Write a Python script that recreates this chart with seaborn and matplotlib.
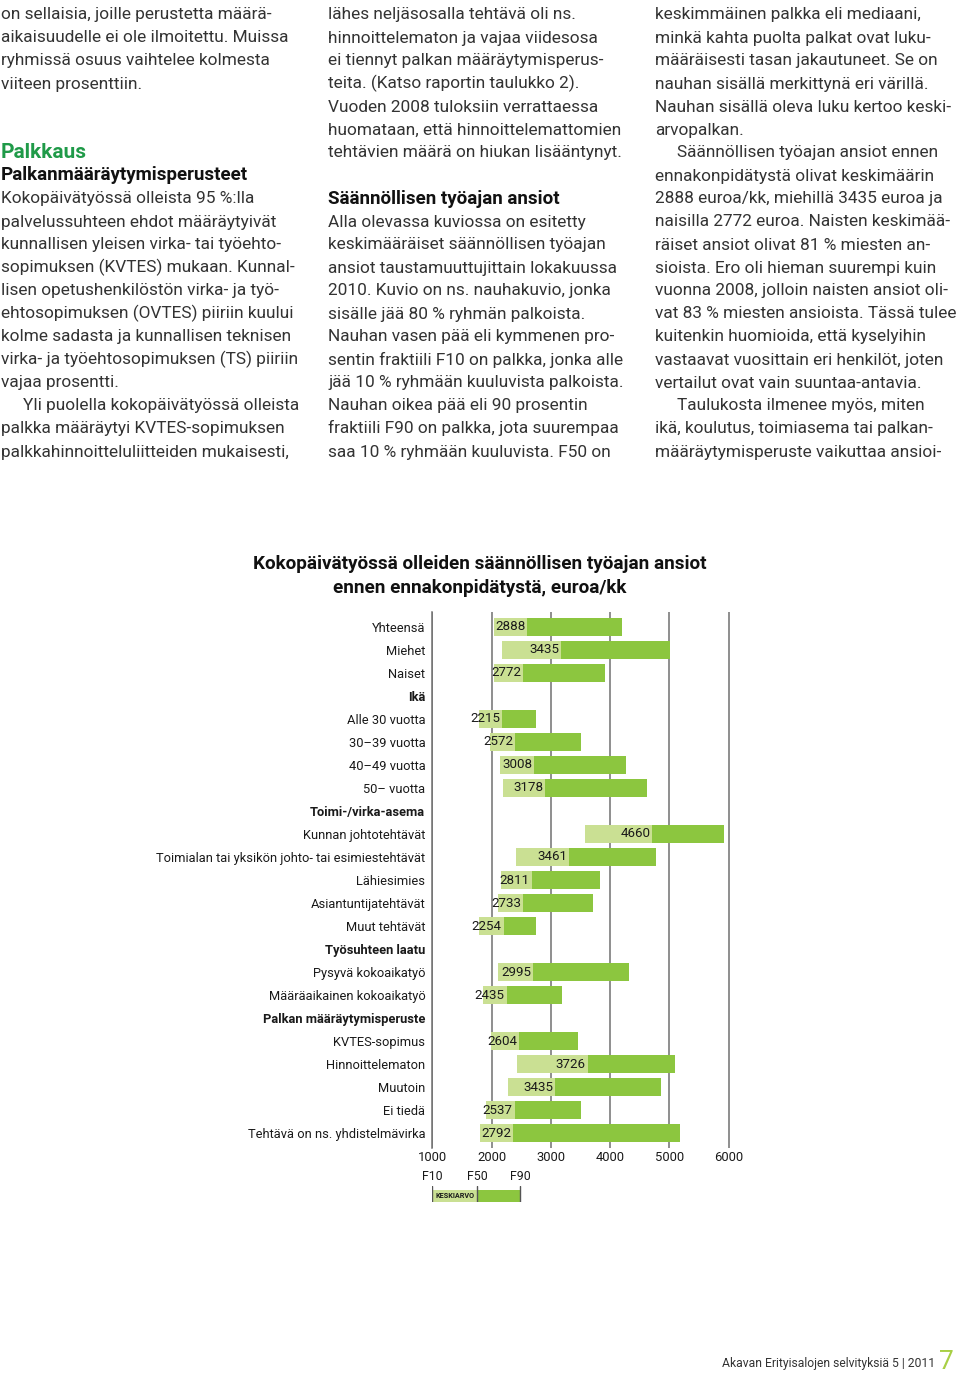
import numpy as np
import pandas as pd
import seaborn as sns
import matplotlib
matplotlib.use("Agg")
import matplotlib.pyplot as plt
from matplotlib import transforms

# ---------------- data ----------------
labels = [
    "Yhteensä", "Miehet", "Naiset", "Ikä",
    "Alle 30 vuotta", "30–39 vuotta", "40–49 vuotta", "50– vuotta",
    "Toimi-/virka-asema", "Kunnan johtotehtävät",
    "Toimialan tai yksikön johto- tai esimiestehtävät", "Lähiesimies",
    "Asiantuntijatehtävät", "Muut tehtävät", "Työsuhteen laatu",
    "Pysyvä kokoaikatyö", "Määräaikainen kokoaikatyö", "Palkan määräytymisperuste",
    "KVTES-sopimus", "Hinnoittelematon", "Muutoin", "Ei tiedä",
    "Tehtävä on ns. yhdistelmävirka",
]
headers = ["Ikä", "Toimi-/virka-asema", "Työsuhteen laatu", "Palkan määräytymisperuste"]
nan = np.nan
f10 = [2040, 2170, 2040, nan, 1790, 1975, 2145, 2200, nan, 3570, 2410, 2155,
       2105, 1790, nan, 2105, 1860, nan, 1990, 2430, 2275, 1900, 1805]
f50 = [2605, 3175, 2535, nan, 2180, 2395, 2720, 2905, nan, 4710, 3310, 2675,
       2535, 2205, nan, 2705, 2255, nan, 2465, 3625, 3070, 2390, 2365]
f90 = [4205, 5005, 3905, nan, 2750, 3515, 4265, 4625, nan, 5920, 4780, 3835,
       3705, 2750, nan, 4325, 3195, nan, 3460, 5100, 4850, 3500, 5180]
means = [2888, 3435, 2772, nan, 2215, 2572, 3008, 3178, nan, 4660, 3461, 2811,
         2733, 2254, nan, 2995, 2435, nan, 2604, 3726, 3435, 2537, 2792]
x_ticks = [1000, 2000, 3000, 4000, 5000, 6000]
legend_labels = ["F10", "F50", "F90"]
legend_vals = [1000, 1755, 2480]

title1 = "Kokopäivätyössä olleiden säännöllisen työajan ansiot"
title2 = "ennen ennakonpidätystä, euroa/kk"

col1 = [
    (0, "on sellaisia, joille perustetta määrä-", "n"),
    (1, "aikaisuudelle ei ole ilmoitettu. Muissa", "n"),
    (2, "ryhmissä osuus vaihtelee kolmesta", "n"),
    (3, "viiteen prosenttiin.", "n"),
    (6, "Palkkaus", "g"),
    (7, "Palkanmääräytymisperusteet", "b"),
    (8, "Kokopäivätyössä olleista 95 %:lla", "n"),
    (9, "palvelussuhteen ehdot määräytyivät", "n"),
    (10, "kunnallisen yleisen virka- tai työehto-", "n"),
    (11, "sopimuksen (KVTES) mukaan. Kunnal-", "n"),
    (12, "lisen opetushenkilöstön virka- ja työ-", "n"),
    (13, "ehtosopimuksen (OVTES) piiriin kuului", "n"),
    (14, "kolme sadasta ja kunnallisen teknisen", "n"),
    (15, "virka- ja työehtosopimuksen (TS) piiriin", "n"),
    (16, "vajaa prosentti.", "n"),
    (17, "Yli puolella kokopäivätyössä olleista", "i"),
    (18, "palkka määräytyi KVTES-sopimuksen", "n"),
    (19, "palkkahinnoitteluliitteiden mukaisesti,", "n"),
]
col2 = [
    (0, "lähes neljäsosalla tehtävä oli ns.", "n"),
    (1, "hinnoittelematon ja vajaa viidesosa", "n"),
    (2, "ei tiennyt palkan määräytymisperus-", "n"),
    (3, "teita. (Katso raportin taulukko 2).", "n"),
    (4, "Vuoden 2008 tuloksiin verrattaessa", "n"),
    (5, "huomataan, että hinnoittelemattomien", "n"),
    (6, "tehtävien määrä on hiukan lisääntynyt.", "n"),
    (8, "Säännöllisen työajan ansiot", "b"),
    (9, "Alla olevassa kuviossa on esitetty", "n"),
    (10, "keskimääräiset säännöllisen työajan", "n"),
    (11, "ansiot taustamuuttujittain lokakuussa", "n"),
    (12, "2010. Kuvio on ns. nauhakuvio, jonka", "n"),
    (13, "sisälle jää 80 % ryhmän palkoista.", "n"),
    (14, "Nauhan vasen pää eli kymmenen pro-", "n"),
    (15, "sentin fraktiili F10 on palkka, jonka alle", "n"),
    (16, "jää 10 % ryhmään kuuluvista palkoista.", "n"),
    (17, "Nauhan oikea pää eli 90 prosentin", "n"),
    (18, "fraktiili F90 on palkka, jota suurempaa", "n"),
    (19, "saa 10 % ryhmään kuuluvista. F50 on", "n"),
]
col3 = [
    (0, "keskimmäinen palkka eli mediaani,", "n"),
    (1, "minkä kahta puolta palkat ovat luku-", "n"),
    (2, "määräisesti tasan jakautuneet. Se on", "n"),
    (3, "nauhan sisällä merkittynä eri värillä.", "n"),
    (4, "Nauhan sisällä oleva luku kertoo keski-", "n"),
    (5, "arvopalkan.", "n"),
    (6, "Säännöllisen työajan ansiot ennen", "i"),
    (7, "ennakonpidätystä olivat keskimäärin", "n"),
    (8, "2888 euroa/kk, miehillä 3435 euroa ja", "n"),
    (9, "naisilla 2772 euroa. Naisten keskimää-", "n"),
    (10, "räiset ansiot olivat 81 % miesten an-", "n"),
    (11, "sioista. Ero oli hieman suurempi kuin", "n"),
    (12, "vuonna 2008, jolloin naisten ansiot oli-", "n"),
    (13, "vat 83 % miesten ansioista. Tässä tulee", "n"),
    (14, "kuitenkin huomioida, että kyselyihin", "n"),
    (15, "vastaavat vuosittain eri henkilöt, joten", "n"),
    (16, "vertailut ovat vain suuntaa-antavia.", "n"),
    (17, "Taulukosta ilmenee myös, miten", "i"),
    (18, "ikä, koulutus, toimiasema tai palkan-", "n"),
    (19, "määräytymisperuste vaikuttaa ansioi-", "n"),
]
footer = "Akavan Erityisalojen selvityksiä 5 | 2011"
page_no = "7"

# ---------------- style ----------------
DARK = "#8cc63f"
LIGHT = "#cae093"
GRID = "#707070"
TEXT = "#333333"
INK = "#1a1a1a"
GREEN_HEAD = "#1f9a48"

sns.set_theme(style="white")
FAM = ["Roboto", "DejaVu Sans"]
plt.rcParams["font.family"] = FAM

W, H = 960, 1373
fig = plt.figure(figsize=(W / 100, H / 100), dpi=100)
fig.patch.set_facecolor("white")
renderer = fig.canvas.get_renderer()


def fx(px):
    return px / W


def fy(py):
    return 1 - py / H


def fit(samples, weight="normal", probe=20.0):
    """font size (pt) so that sample strings get their measured widths (px)"""
    tm, tt = 0.0, 0.0
    for s, target in samples:
        t = fig.text(0, 0, s, fontsize=probe, fontweight=weight)
        tm += t.get_window_extent(renderer).width
        tt += target
        t.remove()
    return probe * tt / tm


BODY = 0.985 * fit([("palvelussuhteen ehdot määräytyivät", 278),
                    ("tehtävien määrä on hiukan lisääntynyt.", 298),
                    ("keskimmäinen palkka eli mediaani,", 270),
                    ("vertailut ovat vain suuntaa-antavia.", 270)])
HEAD = fit([("Palkanmääräytymisperusteet", 246),
            ("Säännöllisen työajan ansiot", 233)], "bold")
GHEAD = fit([("Palkkaus", 85)], "bold")
TITLE = fit([(title1, 450), (title2, 294)], "bold")
LAB = 1.08 * fit([("Toimialan tai yksikön johto- tai esimiestehtävät", 250),
                  ("Tehtävä on ns. yhdistelmävirka", 164),
                  ("Pysyvä kokoaikatyö", 103)])
TICK = 1.1 * fit([("1000", 26), ("3000", 27)])
NUM = 1.08 * fit([("2888", 27.5), ("4660", 28)])
FOOT = fit([(footer, 212)])
FLAB = 1.1 * fit([("F10", 18), ("F50", 20)])
KEY = fit([("KESKIARVO", 39)], "bold")

# ---------------- body text ----------------
def draw_col(lines, x0):
    for k, s, kind in lines:
        yb = 19.5 + 23 * k
        x = x0 + (22 if kind == "i" else 0)
        if kind == "g":
            fig.text(fx(x), fy(yb), s, fontsize=GHEAD, fontweight="bold",
                     color=GREEN_HEAD, va="baseline", ha="left")
        elif kind == "b":
            fig.text(fx(x), fy(yb), s, fontsize=HEAD, fontweight="bold",
                     color="#111111", va="baseline", ha="left")
        else:
            fig.text(fx(x), fy(yb), s, fontsize=BODY, color=TEXT,
                     va="baseline", ha="left")


draw_col(col1, 1)
draw_col(col2, 328)
draw_col(col3, 655)

# ---------------- chart ----------------
df = pd.DataFrame({"label": labels, "f10": f10, "f50": f50, "f90": f90, "mean": means})
bars = df.dropna().copy()
bars["span90"] = bars["f90"] - bars["f10"]
bars["span50"] = bars["f50"] - bars["f10"]

XMIN, XMAX = 1000, 6030
scale = (728.7 - 432.3) / 5000.0
ax_left = 432.3
ax_right = ax_left + (XMAX - XMIN) * scale
ax_top, ax_bot = 612, 1148
ax = fig.add_axes([fx(ax_left), fy(ax_bot), fx(ax_right - ax_left), (ax_bot - ax_top) / H])

sns.barplot(data=bars, y="label", x="span90", order=labels, left=bars["f10"].values,
            color=DARK, saturation=1, width=0.76, errorbar=None, linewidth=0, ax=ax)
sns.barplot(data=bars, y="label", x="span50", order=labels, left=bars["f10"].values,
            color=LIGHT, saturation=1, width=0.76, errorbar=None, linewidth=0, ax=ax)

n = len(labels)
ax.set_xlim(XMIN, XMAX)
ax.set_ylim(n - 1 + 0.65, -0.65)
ax.set_xlabel("")
ax.set_ylabel("")
ax.set_xticks(x_ticks)
ax.set_xticklabels([str(v) for v in x_ticks])
ax.set_yticks(range(n))
ax.set_yticklabels(labels)
ax.grid(axis="x", color=GRID, linewidth=1.1)
ax.grid(axis="y", visible=False)
ax.set_axisbelow(True)
for side in ["top", "right", "bottom"]:
    ax.spines[side].set_visible(False)
ax.spines["left"].set_color(GRID)
ax.spines["left"].set_linewidth(1.1)
ax.tick_params(axis="y", length=0, pad=5, labelsize=LAB, labelcolor=INK)
ax.tick_params(axis="x", length=0, pad=2.5, labelsize=TICK, labelcolor=INK)
for t in ax.get_yticklabels():
    if t.get_text() in headers:
        t.set_fontweight("bold")
ax.set_facecolor("none")

off = transforms.offset_copy(ax.transData, fig=fig, x=-2, y=0, units="dots")
for i, (m, p50) in enumerate(zip(means, f50)):
    if np.isnan(m):
        continue
    ax.text(p50, i, f"{int(m)}", transform=off, ha="right", va="center",
            fontsize=NUM, color=INK)

# legend key
lg_top, lg_bot = 1186, 1202
axl = fig.add_axes([fx(ax_left), fy(lg_bot), fx(ax_right - ax_left), (lg_bot - lg_top) / H])
axl.set_xlim(XMIN, XMAX)
axl.set_ylim(0, 1)
axl.barh([0.36], [legend_vals[2] - legend_vals[0]], left=legend_vals[0], height=0.72,
         color=DARK, linewidth=0)
axl.barh([0.36], [legend_vals[1] - legend_vals[0]], left=legend_vals[0], height=0.72,
         color=LIGHT, linewidth=0)
for v in legend_vals:
    axl.axvline(v, color="#555555", linewidth=1.0)
axl.axis("off")
axl.text(legend_vals[0] + 55, 0.36, "KESKIARVO", fontsize=KEY, fontweight="bold",
         color=INK, va="center", ha="left")
for v, s in zip(legend_vals, legend_labels):
    fig.text(fx(ax_left + (v - XMIN) * scale), fy(1177), s, ha="center", va="center",
             fontsize=FLAB, color=INK)

# title
fig.text(0.5, fy(564), title1, ha="center", va="center", fontsize=TITLE,
         fontweight="bold", color="#111111")
fig.text(0.5, fy(588), title2, ha="center", va="center", fontsize=TITLE,
         fontweight="bold", color="#111111")

# footer
fig.text(fx(935), fy(1367), footer, ha="right", va="baseline", fontsize=FOOT, color=TEXT)
fig.text(fx(939), fy(1369), page_no, ha="left", va="baseline", fontsize=19,
         color="#a8cf45")

fig.savefig("out.png", dpi=100, facecolor="white")
